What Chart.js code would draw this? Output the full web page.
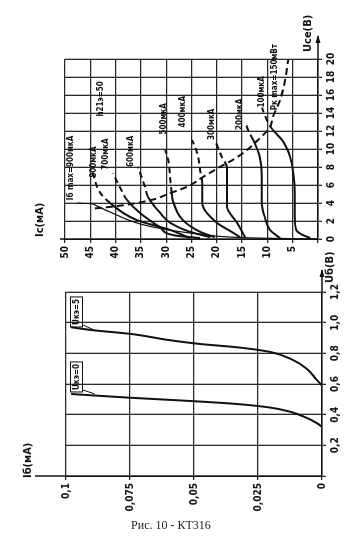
<!DOCTYPE html>
<html lang="ru">
<head>
  <meta charset="UTF-8">
  <title>Рис. 10 - КТ316</title>
  <script src="https://cdn.jsdelivr.net/npm/chart.js"></script>
  <style>
    body {
      margin: 0;
      background: #fff;
    }
    .sheet {
      position: relative;
      width: 354px;
      height: 545px;
      overflow: hidden;
    }
    .sheet canvas {
      position: absolute;
      left: 0;
      top: 0;
      transform-origin: 0 0;
    }
    /* the scan lies on its side: both charts are drawn upright, then turned */
    #outChart { transform: translate(15px, 260px) rotate(-90deg); }
    #inChart { transform: translate(15px, 520px) rotate(-90deg); }
    .caption {
      position: absolute;
      left: 0;
      top: 518px;
      width: 342px;
      text-align: center;
      font-family: 'Liberation Serif', 'DejaVu Serif', serif;
      font-size: 12px;
      color: #222;
    }
  </style>
</head>
<body>
  <div class="sheet">
    <canvas id="outChart" width="252" height="335"></canvas>
    <canvas id="inChart" width="270" height="335"></canvas>
    <div class="caption">Рис. 10 - КТ316</div>
  </div>

  <script>
    // output curves: Uкэ (В) against Iк (мА), one pair per base current
    const ibLabels = ['100мкА', '200мкА', '300мкА', '400мкА', '500мкА', '600мкА', '700мкА', '800мкА'];
    const ib100U = [0.1, 0.5, 1.0, 2.5, 5.0, 7.3, 9.1, 11.0, 12.1, 13.2, 14.6];
    const ib100I = [1.5, 3.2, 4.3, 4.6, 4.6, 4.9, 5.5, 7.1, 8.9, 10.1, 11.1];
    const ib200U = [0.1, 1.0, 2.4, 4.0, 7.1, 9.1, 11.0, 12.1, 12.7];
    const ib200I = [7.5, 9.5, 10.5, 11.1, 11.1, 11.5, 12.8, 13.8, 14.2];
    const ib300U = [0.2, 1.8, 3.6, 6.0, 8.0, 9.1, 10.2, 11.0];
    const ib300I = [14.4, 16.0, 18.0, 18.0, 18.0, 19.0, 19.8, 20.4];
    const ib400U = [0.2, 0.7, 1.8, 4.0, 6.2, 7.7, 9.6, 11.0];
    const ib400I = [15.4, 16.8, 20.0, 22.9, 22.9, 23.3, 23.9, 24.9];
    const ib500U = [0.2, 0.8, 2.1, 4.3, 5.1, 6.6, 8.8, 9.9];
    const ib500I = [20.4, 23.3, 26.7, 28.7, 28.9, 29.2, 29.6, 30.2];
    const ib600U = [0.2, 0.8, 1.8, 2.9, 4.7, 5.8, 8.0];
    const ib600I = [21.3, 25.3, 29.2, 31.2, 33.6, 34.2, 35.6];
    const ib700U = [0.1, 0.4, 1.3, 2.9, 4.3, 5.7, 7.3];
    const ib700I = [23.3, 28.3, 31.2, 35.2, 37.7, 39.1, 40.5];
    const ib800U = [0.1, 1.0, 2.1, 4.0, 5.2, 7.7];
    const ib800I = [25.3, 29.2, 35.8, 41.1, 43.1, 44.7];
    // saturation edge and the Pк max line as drawn
    const satU = [0, 0.1, 0.55, 1.4, 3.0, 3.9];
    const satI = [0, 11.5, 23.3, 33.2, 41.1, 44.5];
    const pMaxU = [3.4, 3.6, 4.3, 5.1, 5.8, 6.9, 8.0, 8.8, 9.9, 11.2, 12.4, 13.6, 15.4, 17.7, 19.9];
    const pMaxI = [44.1, 40.5, 33.2, 29.2, 25.9, 22.7, 19.4, 16.8, 14.0, 11.5, 9.5, 8.9, 7.5, 6.5, 5.9];

    // input curves: Uбэ (В) against Iб (мА)
    const in0U = [0.32, 0.345, 0.39, 0.42, 0.447, 0.47, 0.485, 0.497, 0.51, 0.525, 0.535];
    const in0I = [0, 0.002, 0.0075, 0.0126, 0.0205, 0.0335, 0.047, 0.06, 0.0744, 0.089, 0.098];
    const in5U = [0.59, 0.626, 0.70, 0.757, 0.81, 0.84, 0.86, 0.887, 0.926, 0.95, 0.97];
    const in5I = [0, 0.002, 0.006, 0.0114, 0.0205, 0.0335, 0.047, 0.06, 0.0744, 0.089, 0.098];

    const narrow = "'Liberation Sans Narrow', 'DejaVu Sans Condensed', 'Liberation Sans', sans-serif";
    const ink = '#111';
    const pts = (xs, ys) => xs.map((x, i) => ({ x: x, y: ys[i] }));
    const comma = v => String(+v.toFixed(3)).replace('.', ',');

    // Iк on the Pк max line for a given Uкэ; beyond it the curves go dashed
    function limitIc(u) {
      if (u < pMaxU[0]) return Infinity;
      for (let i = 1; i < pMaxU.length; i++) {
        if (u <= pMaxU[i]) {
          const t = (u - pMaxU[i - 1]) / (pMaxU[i] - pMaxU[i - 1]);
          return pMaxI[i - 1] + t * (pMaxI[i] - pMaxI[i - 1]);
        }
      }
      return pMaxI[pMaxI.length - 1];
    }
    const overLimit = c => {
      const a = c.p0.parsed, b = c.p1.parsed;
      return (a.y + b.y) / 2 > limitIc((a.x + b.x) / 2) ? [6, 4] : undefined;
    };

    const curve = (xs, ys, extra) => Object.assign({
      data: pts(xs, ys),
      showLine: true,
      borderColor: ink,
      borderWidth: 2,
      pointRadius: 0,
      cubicInterpolationMode: 'monotone'
    }, extra || {});

    const notes = {
      id: 'notes',
      afterDraw(chart, args, o) {
        const { ctx, chartArea: a, scales: { x, y } } = chart;
        ctx.save();
        ctx.strokeStyle = ink;
        ctx.fillStyle = ink;
        ctx.lineWidth = 1.5;
        ctx.beginPath();
        ctx.moveTo(a.right, a.bottom);
        ctx.lineTo(a.right + o.arrow, a.bottom);
        ctx.moveTo(a.left, a.top);
        ctx.lineTo(a.left, a.top - o.stub);
        ctx.stroke();
        const tip = a.right + o.arrow;
        ctx.beginPath();
        ctx.moveTo(tip + 1, a.bottom);
        ctx.lineTo(tip - 7, a.bottom - 2.5);
        ctx.lineTo(tip - 7, a.bottom + 2.5);
        ctx.closePath();
        ctx.fill();

        ctx.textBaseline = 'middle';
        ctx.textAlign = 'left';
        ctx.font = 'bold 11px ' + narrow;
        ctx.fillText(o.yTitle, a.left + o.yTitleAt[0], a.top + o.yTitleAt[1]);
        ctx.fillText(o.xTitle, a.right + o.xTitleAt[0], a.bottom + o.xTitleAt[1]);

        ctx.font = 'bold 8px ' + narrow;
        o.labels.forEach(l => {
          const lx = x.getPixelForValue(l.at[0]), ly = y.getPixelForValue(l.at[1]);
          ctx.fillText(l.text, lx, ly);
          if (l.box) {
            const w = ctx.measureText(l.text).width;
            ctx.lineWidth = 1;
            ctx.strokeRect(lx - 2, ly - 6, w + 4, 12);
          }
        });
        ctx.lineWidth = 1;
        ctx.beginPath();
        o.leaders.forEach(d => {
          ctx.moveTo(x.getPixelForValue(d[0]), y.getPixelForValue(d[1]));
          ctx.lineTo(x.getPixelForValue(d[2]), y.getPixelForValue(d[3]));
        });
        ctx.stroke();
        ctx.restore();
      }
    };

    const axis = (min, max, step, fmt, fit) => ({
      type: 'linear',
      min: min,
      max: max,
      ticks: {
        stepSize: step, callback: fmt, autoSkip: false, maxRotation: 0, color: ink, padding: 3,
        font: { family: narrow, size: 10, weight: 'bold' }
      },
      grid: { color: '#2a2a2a', lineWidth: 1.3, tickLength: 4 },
      border: { color: ink, width: 1.6 },
      afterFit: fit
    });

    new Chart(document.getElementById('outChart'), {
      type: 'scatter',
      data: {
        datasets: [
          curve(ib100U, ib100I, { segment: { borderDash: overLimit } }),
          curve(ib200U, ib200I, { segment: { borderDash: overLimit } }),
          curve(ib300U, ib300I, { segment: { borderDash: overLimit } }),
          curve(ib400U, ib400I, { segment: { borderDash: overLimit } }),
          curve(ib500U, ib500I, { segment: { borderDash: overLimit } }),
          curve(ib600U, ib600I, { segment: { borderDash: overLimit } }),
          curve(ib700U, ib700I, { segment: { borderDash: overLimit } }),
          curve(ib800U, ib800I, { segment: { borderDash: overLimit } }),
          curve(satU, satI, { borderWidth: 1.2 }),
          curve(pMaxU, pMaxI, { borderDash: [7, 4] })
        ]
      },
      options: {
        responsive: false,
        animation: false,
        layout: { padding: { top: 50, right: 51, left: 0, bottom: 0 } },
        plugins: {
          legend: { display: false },
          tooltip: { enabled: false },
          notes: {
            arrow: 23, stub: 5,
            yTitle: 'Iс(мА)', yTitleAt: [2, -25],
            xTitle: 'Uсе(В)', xTitleAt: [7, -10],
            labels: [
              { text: ibLabels[0], at: [14.6, 11.1] },
              { text: ibLabels[1], at: [12.1, 15.4] },
              { text: ibLabels[2], at: [11.0, 20.9] },
              { text: ibLabels[3], at: [12.4, 26.7] },
              { text: ibLabels[4], at: [11.6, 30.4] },
              { text: ibLabels[5], at: [8.0, 37.0] },
              { text: ibLabels[6], at: [7.7, 41.9] },
              { text: ibLabels[7], at: [6.8, 44.3] },
              { text: 'Iб max=900мкА', at: [4.3, 48.8] },
              { text: 'h21э=50', at: [13.6, 42.9] },
              { text: 'Pк max=150мВт', at: [14.3, 8.6] }
            ],
            leaders: [[4.0, 47.6, 3.9, 44.5]]
          }
        },
        scales: {
          x: axis(0, 20, 2, v => v, s => { s.height = 32; }),
          y: axis(0, 50, 5, v => v === 0 ? '' : v, s => { s.width = 21; })
        }
      },
      plugins: [notes]
    });

    new Chart(document.getElementById('inChart'), {
      type: 'scatter',
      data: {
        datasets: [
          curve(in0U, in0I),
          curve(in5U, in5I)
        ]
      },
      options: {
        responsive: false,
        animation: false,
        layout: { padding: { top: 51, right: 42, left: 0, bottom: 0 } },
        plugins: {
          legend: { display: false },
          tooltip: { enabled: false },
          notes: {
            arrow: 22, stub: 31,
            yTitle: 'Iб(мА)', yTitleAt: [-2, -38],
            xTitle: 'Uб(В)', xTitleAt: [9, 8],
            labels: [
              { text: 'Uкэ=5', at: [0.985, 0.0959], box: true },
              { text: 'Uкэ=0', at: [0.561, 0.0959], box: true }
            ],
            leaders: [[0.985, 0.0934, 0.95, 0.0887], [0.561, 0.0934, 0.535, 0.0887]]
          }
        },
        scales: {
          x: axis(0, 1.2, 0.2, v => v === 0 ? '' : v.toFixed(1).replace('.', ','), s => { s.height = 28; }),
          y: axis(0, 0.1, 0.025, v => comma(v), s => { s.width = 44; })
        }
      },
      plugins: [notes]
    });
  </script>
</body>
</html>
